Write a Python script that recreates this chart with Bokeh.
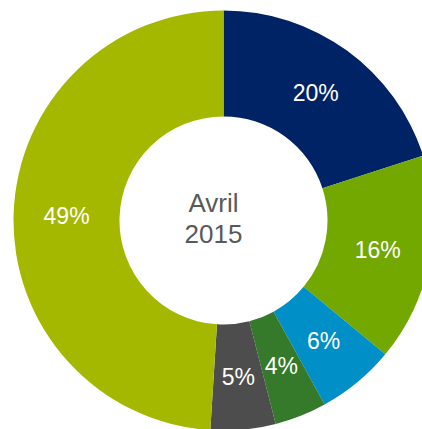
import math
from bokeh.plotting import figure
from bokeh.models import ColumnDataSource
from bokeh.core.properties import value
from bokeh.embed import file_html
from bokeh.resources import INLINE

# Data
categories = ["A", "B", "C", "D", "E", "F"]
shares = [20, 16, 6, 4, 5, 49]
colors = ["#002366", "#72A800", "#008FC6", "#35792A", "#4D4D4D", "#A5B800"]
center_lines = ["Avril", "2015"]

W, H = 422, 429
cx_px, cy_px = 223, 220          # donut centre inside the figure (pixels)
r_in, r_out = 104, 210

total = float(sum(shares))
starts, ends, lx, ly, labels = [], [], [], [], []
cum = 0.0
for s in shares:
    a0 = math.pi / 2 - 2 * math.pi * cum / total
    cum += s
    a1 = math.pi / 2 - 2 * math.pi * cum / total
    starts.append(a0)
    ends.append(a1)
    mid = (a0 + a1) / 2
    rm = (r_in + r_out) / 2
    lx.append(rm * math.cos(mid))
    ly.append(rm * math.sin(mid))
    labels.append(f"{s}%")

src = ColumnDataSource(dict(cat=categories, start=starts, end=ends, color=colors,
                            lx=lx, ly=ly, label=labels))

p = figure(width=W, height=H, output_backend="svg", toolbar_location=None,
           x_range=(-cx_px, W - cx_px), y_range=(-(H - cy_px), cy_px),
           min_border=0, outline_line_color=None)
p.axis.visible = False
p.grid.visible = False
p.background_fill_color = "white"
p.border_fill_color = "white"

p.annular_wedge(x=0, y=0, inner_radius=r_in, outer_radius=r_out,
                start_angle="start", end_angle="end", direction="clock",
                fill_color="color", line_color=None, source=src)

p.text(x="lx", y="ly", text="label", source=src, text_color="white",
       text_align="center", text_baseline="middle",
       text_font=value("Liberation Sans"), text_font_size="23px")

p.text(x=[-10, -10], y=[18, -13], text=center_lines, text_color="#595959",
       text_align="center", text_baseline="middle",
       text_font=value("Liberation Sans"), text_font_size="26px")

open("out.html", "w").write(file_html(p, INLINE))
